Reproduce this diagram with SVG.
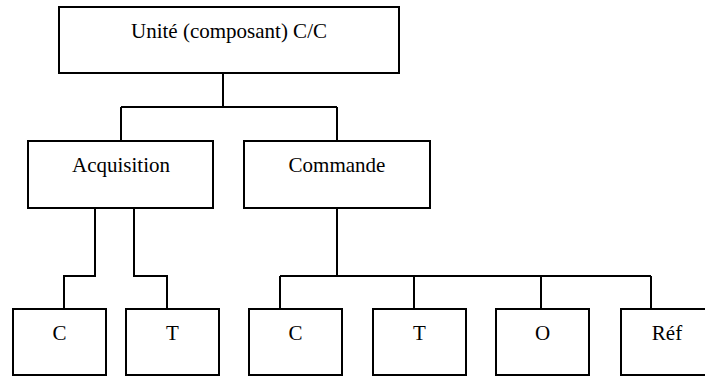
<svg xmlns="http://www.w3.org/2000/svg" width="705" height="376" viewBox="0 0 705 376">
<style>
.box{fill:#fff;stroke:#000;stroke-width:2}
.lbl{font-family:"Liberation Serif","Times New Roman",serif;font-size:21px;fill:#000;text-anchor:middle}
.conn{fill:none;stroke:#000;stroke-width:2}
</style>
<rect width="705" height="376" fill="#fff"/>
<g id="connectors" class="conn">
<path d="M223 73V107M121 107H337M121 107V141M337 107V141"/>
<path d="M95 208V276H64V309M134 208V276H167V309"/>
<path d="M337 208V276M280 276H651M280 276V309M414 276V309M541 276V309M651 276V309"/>
</g>
<g id="n-root"><rect class="box" x="59" y="7" width="340" height="66"/><text class="lbl" x="229" y="38">Unité (composant) C/C</text></g>
<g id="n-acq"><rect class="box" x="28" y="141" width="185" height="67"/><text class="lbl" x="121" y="172">Acquisition</text></g>
<g id="n-cmd"><rect class="box" x="244" y="141" width="186" height="67"/><text class="lbl" x="337" y="172">Commande</text></g>
<g id="n-acq-c"><rect class="box" x="13" y="309" width="93" height="66"/><text class="lbl" x="59.5" y="340">C</text></g>
<g id="n-acq-t"><rect class="box" x="126" y="309" width="93" height="66"/><text class="lbl" x="172.5" y="340">T</text></g>
<g id="n-cmd-c"><rect class="box" x="249" y="309" width="93" height="66"/><text class="lbl" x="295.5" y="340">C</text></g>
<g id="n-cmd-t"><rect class="box" x="373" y="309" width="93" height="66"/><text class="lbl" x="419.5" y="340">T</text></g>
<g id="n-cmd-o"><rect class="box" x="496" y="309" width="93" height="66"/><text class="lbl" x="542.5" y="340">O</text></g>
<g id="n-cmd-ref"><rect class="box" x="621" y="309" width="93" height="66"/><text class="lbl" x="667" y="340">Réf</text></g>
</svg>
